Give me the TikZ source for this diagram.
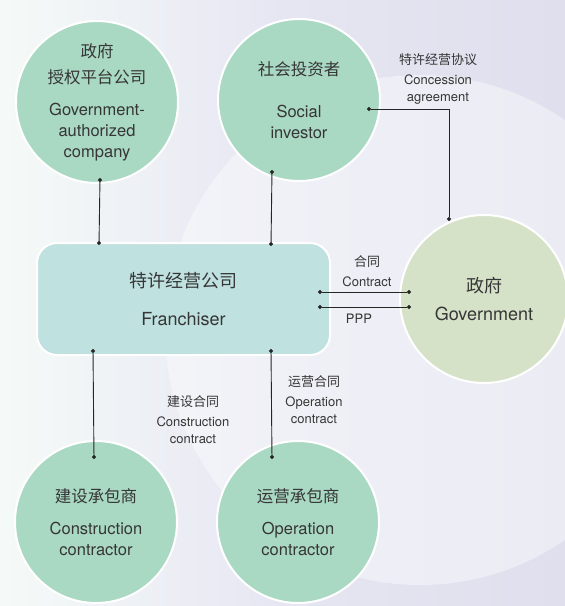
\documentclass[tikz,border=0pt]{standalone}
\usepackage{fontspec}
\setmainfont{TeX Gyre Heros}
\newfontfamily\cjk{Noto Sans CJK SC}
\usetikzlibrary{calc,arrows.meta}
\definecolor{mint}{HTML}{A9D8C3}
\definecolor{sage}{HTML}{D6E2C8}
\definecolor{aqua}{HTML}{BFE1E0}
\definecolor{ink}{HTML}{363636}

\begin{document}
\begin{tikzpicture}[x=1pt,y=-1pt,
  party/.style={circle,draw=white,line width=2pt,fill=mint,minimum size=162pt,inner sep=0pt,align=center,text=ink,font=\fontsize{16.5}{21}\selectfont},
  link/.style={line width=0.9pt,draw=black!85,{Circle[length=4pt]}-{Circle[length=4pt]}},
  note/.style={align=center,text=ink,font=\fontsize{13}{17}\selectfont}]
\useasboundingbox (0,0) rectangle (565,606);
\begin{scope}
\clip (0,0) rectangle (565,606);
\shade[left color=mint!12!white,right color=blue!6!white!93!black,middle color=blue!5!white!95!black] (0,0) rectangle (565,606);
\fill[white,opacity=0.4] (420,330) circle[radius=255];
\end{scope}

\node[party] (gac) at (97,102) {{\cjk 政府}\\[5pt]{\cjk 授权平台公司}\\[11pt]Government-\\authorized\\company};
\node[party] (inv) at (299,100) {{\cjk 社会投资者}\\[21pt]Social\\investor};
\node[party,fill=sage,minimum size=168pt,font=\fontsize{18}{22}\selectfont] (gov) at (484,299) {{\cjk 政府}\\[6pt]Government};
\node[draw=white,line width=2pt,fill=aqua,rounded corners=20pt,minimum width=293pt,minimum height=112pt,align=center,text=ink,font=\fontsize{18}{22}\selectfont] (fran) at (183.5,299) {{\cjk 特许经营公司}\\[16pt]Franchiser};
\node[party] (cst) at (96,522) {{\cjk 建设承包商}\\[11pt]Construction\\contractor};
\node[party] (opr) at (298,522) {{\cjk 运营承包商}\\[11pt]Operation\\contractor};

\draw[link] ($(gac)+(3,76)$) -- ($(fran.north west)+(63,3)$);
\draw[link] ($(inv)+(-27,70)$) -- ($(fran.north west)+(235,4)$);
\draw[link] ($(inv)+(68,9)$) -| ($(gov)+(-35,-78)$);
\draw[link] ($(fran.east)+(-13,-7)$) -- ($(gov)+(-73,-7)$);
\draw[link] ($(fran.east)+(-13,8)$) -- ($(gov)+(-73,8)$);
\draw[link] ($(fran.south west)+(57,-7)$) -- ($(cst)+(-2,-63)$);
\draw[link] ($(fran.south west)+(235,-7)$) -- ($(opr)+(-26,-63)$);

\node[note] (concession) at (438,79) {{\cjk 特许经营协议}\\[3pt]Concession\\agreement};
\node[note] (contract) at (367,271) {{\cjk 合同}\\[3pt]Contract};
\node[note] (ppp) at (359,319) {PPP};
\node[note] (build) at (193,420) {{\cjk 建设合同}\\[3pt]Construction\\contract};
\node[note] (operate) at (314,400) {{\cjk 运营合同}\\[3pt]Operation\\contract};
\end{tikzpicture}
\end{document}
